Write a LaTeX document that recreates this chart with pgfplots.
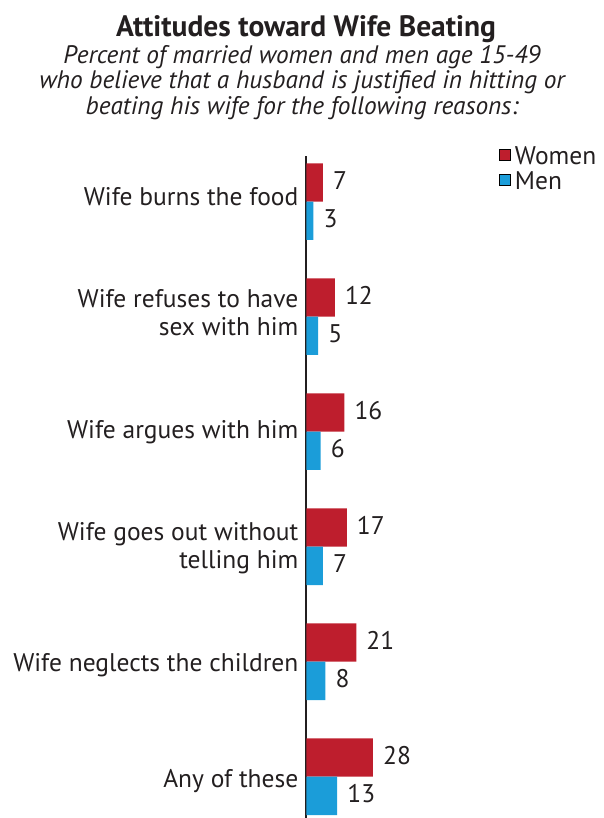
\documentclass[border=0pt]{standalone}
\usepackage{pgfplots}
\pgfplotsset{compat=1.18}
\usepackage{fontspec}
\setmainfont{PT Sans}
\definecolor{wred}{RGB}{190,30,45}
\definecolor{mblue}{RGB}{27,157,217}
\definecolor{txt}{RGB}{35,31,32}
\newcommand{\lblfont}{\fontsize{25.5}{28.3}\selectfont}
\begin{document}
\begin{tikzpicture}
\useasboundingbox (0pt,0pt) rectangle (603pt,-818pt);
\node[anchor=base, font=\bfseries\fontsize{29.5}{32}\selectfont, text=txt, inner sep=0] at (306pt,-36.7pt) {Attitudes toward Wife Beating};
\node[anchor=base, font=\itshape\fontsize{25.3}{26}\selectfont, text=txt, inner sep=0] at (302pt,-63.3pt) {Percent of married women and men age 15-49};
\node[anchor=base, font=\itshape\fontsize{25.3}{26}\selectfont, text=txt, inner sep=0] at (302pt,-89pt) {who believe that a husband is justified in hitting or};
\node[anchor=base, font=\itshape\fontsize{25.3}{26}\selectfont, text=txt, inner sep=0] at (302pt,-115pt) {beating his wife for the following reasons:};
\begin{axis}[
  at={(306.3pt,-818pt)}, anchor=south west,
  scale only axis, width=238pt, height=662pt,
  xmin=0, xmax=100, ymin=-0.397, ymax=5.359, y dir=reverse,
  xbar, bar width=38.3pt,
  axis x line=none, axis y line=left,
  y axis line style={-, draw=txt, line width=1.9pt},
  ytick={0,1.0127,2.0254,3.038,4.051,5.063},
  yticklabels={{\strut Wife burns the food},{\strut Wife refuses to have\\\strut sex with him},{\strut Wife argues with him},{\strut Wife goes out without\\\strut telling him},{\strut Wife neglects the children},{\strut Any of these}},
  ytick style={draw=none},
  yticklabel style={anchor=east, inner sep=0pt, xshift=-5.6pt, yshift=2pt, align=right, font=\lblfont, text=txt},
  /pgf/number format/assume math mode=true,
  point meta=x,
  nodes near coords,
  nodes near coords style={anchor=west, inner sep=0pt, xshift=10pt, yshift=2pt, font=\lblfont, text=txt},
  legend style={at={(axis description cs:0.81,1.015)}, anchor=north west, draw=none, fill=none, inner sep=0pt, font=\lblfont, text=txt, row sep=6pt, nodes={inner sep=0pt}},
  legend cell align=left,
  legend image code/.code={\draw[#1] (0pt,-4pt) rectangle (11pt,7pt); \path (15.5pt,0pt);},
]
\addplot[fill=wred, draw=none, bar shift=19.15pt] coordinates {(7,0) (12,1) (16,2) (17,3) (21,4) (28,5)};
\addplot[fill=mblue, draw=none, bar shift=-19.15pt] coordinates {(3,0) (5,1) (6,2) (7,3) (8,4) (13,5)};
\legend{Women, Men}
\end{axis}
\end{tikzpicture}
\end{document}
